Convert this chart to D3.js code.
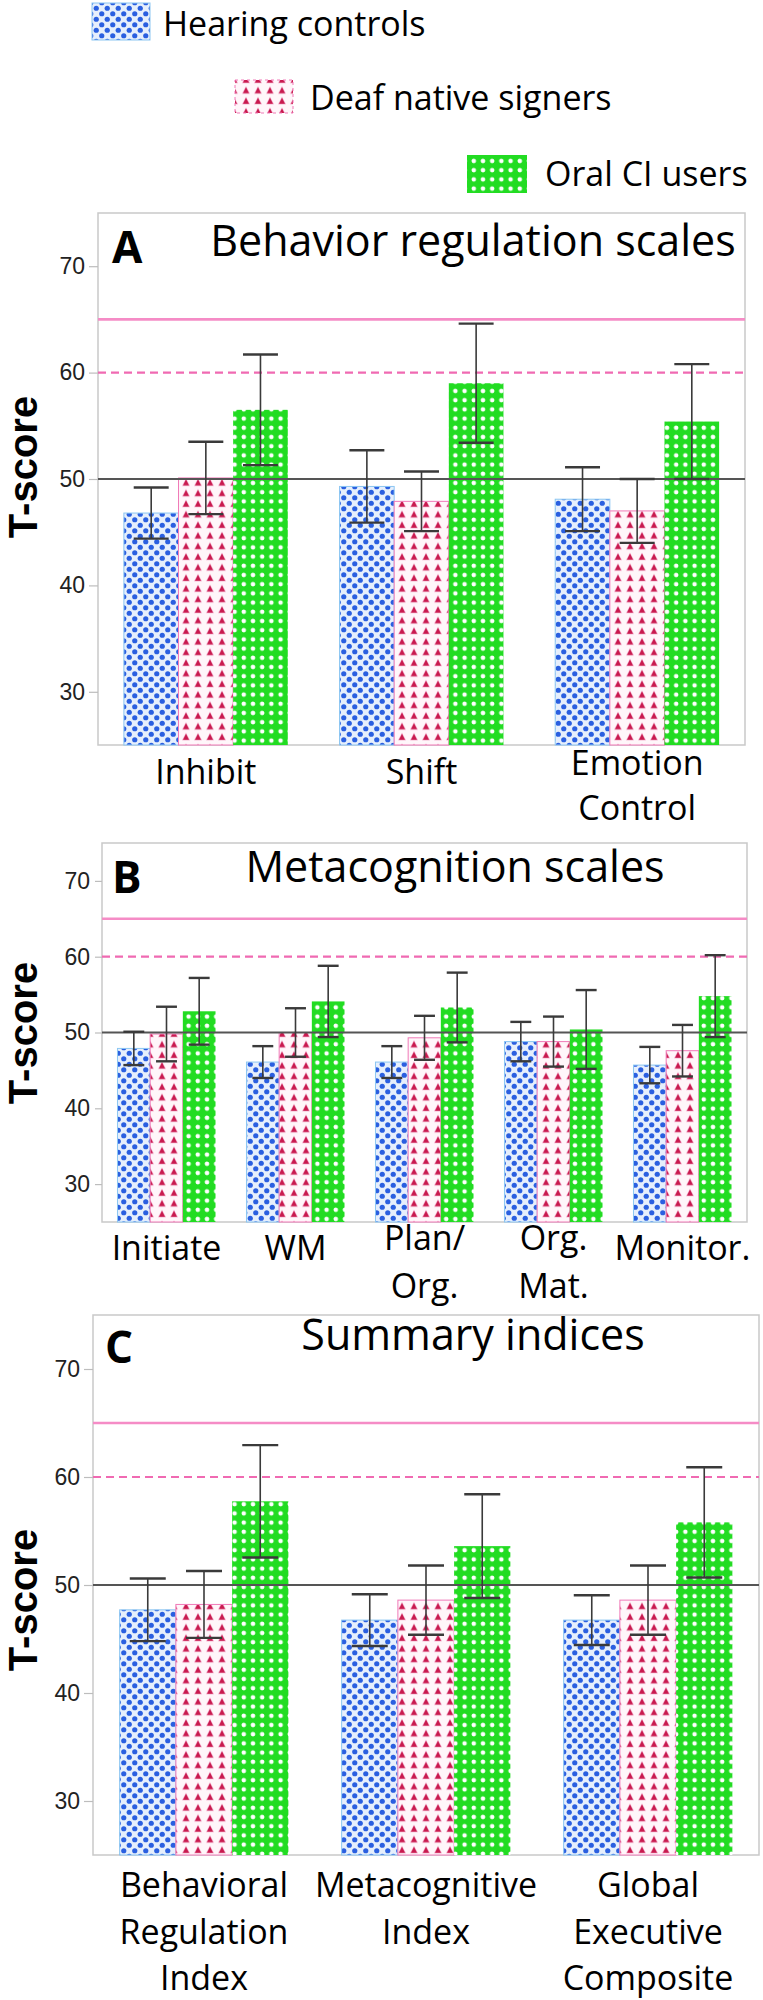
<!DOCTYPE html>
<html><head><meta charset="utf-8">
<script src="https://cdn.jsdelivr.net/npm/d3@7"></script>
<style>body{margin:0;background:#fff} svg{display:block}</style>
</head><body>
<script>
// ---------- DATA ----------
const groups = ["Hearing controls", "Deaf native signers", "Oral CI users"];
const yTicks = [30, 40, 50, 60, 70];
const refLines = [65, 60, 50];
const panelLetters = ["A", "B", "C"];
const panelTitles = ["Behavior regulation scales", "Metacognition scales", "Summary indices"];

const catsA = [["Inhibit"], ["Shift"], ["Emotion", "Control"]];
const hearingA = [46.8, 49.3, 48.1];
const hearingErrA = [2.4, 3.4, 3.0];
const deafA = [50.1, 47.9, 47.0];
const deafErrA = [3.4, 2.8, 3.0];
const ciA = [56.5, 59.0, 55.4];
const ciErrA = [5.2, 5.6, 5.4];

const catsB = [["Initiate"], ["WM"], ["Plan/", "Org."], ["Org.", "Mat."], ["Monitor."]];
const hearingB = [47.9, 46.1, 46.1, 48.8, 45.7];
const hearingErrB = [2.2, 2.1, 2.1, 2.6, 2.4];
const deafB = [49.8, 50.0, 49.3, 48.8, 47.6];
const deafErrB = [3.6, 3.2, 2.9, 3.3, 3.4];
const ciB = [52.8, 54.1, 53.3, 50.4, 54.8];
const ciErrB = [4.4, 4.7, 4.6, 5.2, 5.4];

const catsC = [["Behavioral", "Regulation", "Index"], ["Metacognitive", "Index"], ["Global", "Executive", "Composite"]];
const hearingC = [47.7, 46.75, 46.75];
const hearingErrC = [2.9, 2.4, 2.3];
const deafC = [48.2, 48.6, 48.6];
const deafErrC = [3.1, 3.2, 3.2];
const ciC = [57.75, 53.6, 55.8];
const ciErrC = [5.2, 4.8, 5.1];

// ---------- LAYOUT ----------
const W = 763, H = 2000;
const layout = [
  {L: 98, R: 745, T: 213, B: 745, tickSize: 9, tickPad: 4, labelBase: 784, multiOff: 9, gap: 45,
   yLabelY: 467, titleX: 473, titleY: 256, letterX: 112, letterY: 263},
  {L: 102, R: 747, T: 843, B: 1222, tickSize: 7, tickPad: 5, labelBase: 1260, multiOff: 10, gap: 48,
   yLabelY: 1033, titleX: 455, titleY: 882, letterX: 112, letterY: 893},
  {L: 93, R: 759, T: 1315, B: 1855, tickSize: 9, tickPad: 4, labelBase: 1897, multiOff: 0, gap: 46.5,
   yLabelY: 1600, titleX: 473, titleY: 1350, letterX: 105, letterY: 1363}
];
const panels = [
  {cats: catsA, vals: [hearingA, deafA, ciA], errs: [hearingErrA, deafErrA, ciErrA]},
  {cats: catsB, vals: [hearingB, deafB, ciB], errs: [hearingErrB, deafErrB, ciErrB]},
  {cats: catsC, vals: [hearingC, deafC, ciC], errs: [hearingErrC, deafErrC, ciErrC]}
];
const legendPos = [
  {x: 92, y: 3, w: 58, h: 37, tx: 163, ty: 36},
  {x: 235, y: 80, w: 58, h: 33, tx: 310, ty: 110},
  {x: 467, y: 155, w: 60, h: 38, tx: 545, ty: 186}
];

const textFont = "'Open Sans', 'Noto Sans', sans-serif";
const tickFont = "'Liberation Sans', Arial, sans-serif";

const svg = d3.select("body").append("svg").attr("width", W).attr("height", H);

// ---------- PATTERNS ----------
const defs = svg.append("defs");
const pb = defs.append("pattern").attr("id", "pBlue").attr("patternUnits", "userSpaceOnUse")
  .attr("width", 11).attr("height", 11);
pb.append("rect").attr("width", 11).attr("height", 11).attr("fill", "#e6effc");
pb.append("circle").attr("cx", 2.75).attr("cy", 2.75).attr("r", 2.6).attr("fill", "#2a5fe0");
pb.append("circle").attr("cx", 8.25).attr("cy", 8.25).attr("r", 2.6).attr("fill", "#2a5fe0");

const pp = defs.append("pattern").attr("id", "pPink").attr("patternUnits", "userSpaceOnUse")
  .attr("width", 12).attr("height", 10.6);
pp.append("rect").attr("width", 12).attr("height", 10.6).attr("fill", "#fff6fa");
pp.append("path").attr("d", "M6,1.4 L10,9 L2,9 Z").attr("fill", "#f2a0c4");
pp.append("path").attr("d", "M6,2.4 L9,8.4 L3,8.4 Z").attr("fill", "#c81a4e");

const pg = defs.append("pattern").attr("id", "pGreen").attr("patternUnits", "userSpaceOnUse")
  .attr("width", 9.2).attr("height", 9.2);
pg.append("rect").attr("width", 9.2).attr("height", 9.2).attr("fill", "#22dc22");
pg.append("circle").attr("cx", 4.6).attr("cy", 4.6).attr("r", 2.3).attr("fill", "#ffffff");

const fills = ["url(#pBlue)", "url(#pPink)", "url(#pGreen)"];
const strokes = ["#8cc6f2", "#f07ab8", "none"];

// ---------- LEGEND ----------
groups.forEach((g, i) => {
  const p = legendPos[i];
  svg.append("rect").attr("x", p.x).attr("y", p.y).attr("width", p.w).attr("height", p.h)
    .attr("fill", fills[i]).attr("stroke", strokes[i]).attr("stroke-width", 1)
    .attr("stroke-dasharray", i === 1 ? "3 3" : null);
  svg.append("text").attr("x", p.tx).attr("y", p.ty).text(g)
    .attr("font-family", textFont).attr("font-size", 34).attr("fill", "#000");
});

// ---------- PANELS ----------
panels.forEach((pd, pi) => {
  const lo = layout[pi];
  const g = svg.append("g");
  const idx = pd.cats.map((c, i) => i);
  const x0 = d3.scaleBand().domain(idx).range([lo.L, lo.R]).paddingInner(0.24).paddingOuter(0.12);
  const x1 = d3.scaleBand().domain([0, 1, 2]).range([0, x0.bandwidth()]);
  const y = d3.scaleLinear().domain([25, 75]).range([lo.B, lo.T]);

  g.append("rect").attr("x", lo.L).attr("y", lo.T).attr("width", lo.R - lo.L).attr("height", lo.B - lo.T)
    .attr("fill", "#fff").attr("stroke", "#c9c9c9").attr("stroke-width", 1.5);

  pd.vals.forEach((series, si) => {
    g.selectAll(null).data(series).enter().append("rect")
      .attr("x", (d, i) => x0(i) + x1(si))
      .attr("y", d => y(d))
      .attr("width", x1.bandwidth())
      .attr("height", d => y(25) - y(d))
      .attr("fill", fills[si])
      .attr("stroke", strokes[si]).attr("stroke-width", 1);
  });

  const refStyle = [
    {c: "#f58cc6", w: 2.6, dash: null},
    {c: "#f06ab2", w: 2.2, dash: "8 5"},
    {c: "#555555", w: 1.8, dash: null}
  ];
  refLines.forEach((v, ri) => {
    g.append("line").attr("x1", lo.L).attr("x2", lo.R).attr("y1", y(v)).attr("y2", y(v))
      .attr("stroke", refStyle[ri].c).attr("stroke-width", refStyle[ri].w)
      .attr("stroke-dasharray", refStyle[ri].dash);
  });

  pd.vals.forEach((series, si) => {
    const errs = pd.errs[si];
    series.forEach((m, i) => {
      const cx = x0(i) + x1(si) + x1.bandwidth() / 2;
      const cw = x1.bandwidth() * 0.64;
      const eg = g.append("g").attr("stroke", "#3a3a3a");
      eg.append("line").attr("x1", cx).attr("x2", cx).attr("y1", y(m + errs[i])).attr("y2", y(m - errs[i]))
        .attr("stroke-width", 1.6);
      [m + errs[i], m - errs[i]].forEach(v => {
        eg.append("line").attr("x1", cx - cw / 2).attr("x2", cx + cw / 2).attr("y1", y(v)).attr("y2", y(v))
          .attr("stroke-width", 2.4);
      });
    });
  });

  const ax = g.append("g").attr("transform", `translate(${lo.L},0)`)
    .call(d3.axisLeft(y).tickValues(yTicks).tickSize(lo.tickSize).tickPadding(lo.tickPad));
  ax.select(".domain").remove();
  ax.selectAll(".tick line").attr("stroke", "#bdbdbd").attr("stroke-width", 1.2);
  ax.selectAll(".tick text").attr("font-family", tickFont).attr("font-size", 23).attr("fill", "#222");

  pd.cats.forEach((lines, i) => {
    const cx = x0(i) + x0.bandwidth() / 2;
    const first = lines.length > 1 ? lo.labelBase - lo.multiOff : lo.labelBase;
    const t = g.append("text").attr("text-anchor", "middle")
      .attr("font-family", textFont).attr("font-size", 34).attr("fill", "#000");
    lines.forEach((ln, k) => {
      t.append("tspan").attr("x", cx).attr("y", first + k * lo.gap).text(ln);
    });
  });

  g.append("text").attr("transform", `translate(37,${lo.yLabelY}) rotate(-90)`)
    .attr("text-anchor", "middle").attr("font-family", tickFont).attr("font-weight", "bold")
    .attr("font-size", 40).attr("fill", "#000").text("T-score");

  g.append("text").attr("x", lo.letterX).attr("y", lo.letterY).text(panelLetters[pi])
    .attr("font-family", textFont).attr("font-weight", "bold").attr("font-size", 44).attr("fill", "#000");
  g.append("text").attr("x", lo.titleX).attr("y", lo.titleY).attr("text-anchor", "middle")
    .text(panelTitles[pi]).attr("font-family", textFont).attr("font-size", 43).attr("fill", "#000");
});
</script>
</body></html>
